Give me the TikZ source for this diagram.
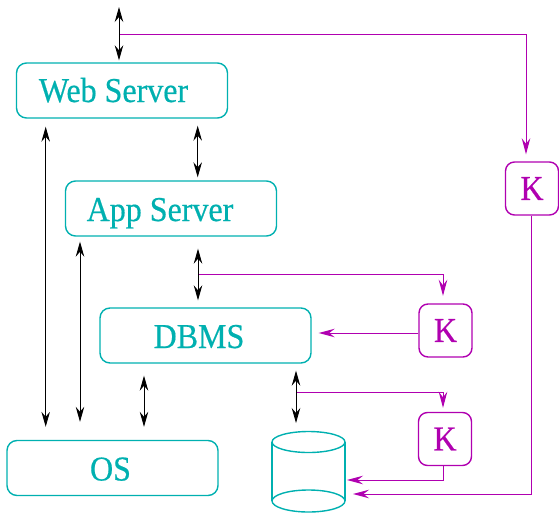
\documentclass[tikz,border=0pt]{standalone}
\usepackage{fontspec}
\setmainfont{Liberation Serif}
\newfontfamily\lblfont[FakeBold=0.5]{Liberation Serif}
\usepackage{graphicx}
\usetikzlibrary{arrows.meta}
\definecolor{tealc}{RGB}{0,176,176}
\definecolor{magc}{RGB}{176,0,176}
\newcommand{\tallt}[1]{\scalebox{1}[1.09]{#1}}
\begin{document}
\begin{tikzpicture}[x=1pt,y=-1pt,
  box/.style={draw=tealc, line width=1.4pt, rounded corners=10pt, minimum width=211pt, minimum height=55pt, inner sep=0pt},
  lbl/.style={text=tealc, font=\lblfont\fontsize{32}{34}\selectfont, anchor=base, inner sep=0pt},
  kbox/.style={draw=magc, line width=1.4pt, rounded corners=9pt, minimum width=53pt, minimum height=53pt, inner sep=0pt, text=magc, font=\lblfont\fontsize{32}{34}\selectfont},
  dbl/.style={black, line width=0.9pt, {Stealth[length=15pt,width=8.5pt,inset=5pt]}-{Stealth[length=15pt,width=8.5pt,inset=5pt]}},
  mag/.style={magc, line width=1pt, -{Stealth[length=16pt,width=8.5pt,inset=5.5pt]}},
]
\useasboundingbox (0,0) rectangle (559,514);

% boxes
\node[box] (ws) at (122,90.5) {};
\node[lbl] (wst) at (113.5,102) {\tallt{Web Server}};
\node[box] (as) at (171,208.5) {};
\node[lbl] (ast) at (160,221) {\tallt{App Server}};
\node[box] (db) at (205.5,335.5) {};
\node[lbl] (dbt) at (199,348) {\tallt{DBMS}};
\node[box] (os) at (112.5,468) {};
\node[lbl] (ost) at (110.5,480.5) {\tallt{OS}};

\node[kbox] (k1) at (532,188.5) {\tallt{K}};
\node[kbox] (k2) at (445.5,330.5) {\tallt{K}};
\node[kbox] (k3) at (445,439) {\tallt{K}};

% cylinder
\draw[tealc, line width=1.4pt] (308.5,442) ellipse [x radius=36.5pt, y radius=10.5pt];
\draw[tealc, line width=1.4pt] (308.5,501) ellipse [x radius=36.5pt, y radius=11pt];
\draw[tealc, line width=1.4pt] (272,442) -- (272,501) (345,442) -- (345,501);
\coordinate (cyltop) at (308.5,431.5);
\coordinate (cylA) at (345,480);
\coordinate (cylB) at (345,494);

% column coordinates
\coordinate (c0) at (119,0);
\coordinate (c1) at (45.7,0);
\coordinate (c2) at (80,0);
\coordinate (c3) at (197.7,0);
\coordinate (c4) at (198,0);
\coordinate (c5) at (144,0);
\coordinate (c6) at (296,0);
\coordinate (topend) at (119,7);

% magenta connectors
\coordinate (m1) at (119,34);
\coordinate (m2) at (198,274);
\coordinate (m3) at (296,392);
\draw[mag, shorten >=7pt] (m1) -| ([xshift=-6pt]k1.north);
\draw[mag, shorten >=8pt] ([xshift=-1pt]k1.south) |- (cylB);
\draw[mag, shorten >=7.5pt] (m2) -| ([xshift=-2.5pt]k2.north);
\draw[mag, shorten >=7pt] ([yshift=-2.5pt]k2.west) -- ([yshift=-2.5pt]db.east |- k2.west);
\draw[mag, shorten >=4pt] (m3) -| ([xshift=-2pt]k3.north);
\draw[mag, shorten >=2pt] ([xshift=-2pt]k3.south) |- (cylA);

% black double arrows
\draw[dbl, shorten >=2pt] (topend) -- (ws.north -| c0);
\draw[dbl, shorten <=8pt, shorten >=13pt] (ws.south -| c1) -- (os.north -| c1);
\draw[dbl, shorten <=5pt, shorten >=18pt] (as.south -| c2) -- (os.north -| c2);
\draw[dbl, shorten <=7pt, shorten >=3pt] (ws.south -| c3) -- (as.north -| c3);
\draw[dbl, shorten <=12pt, shorten >=7pt] (as.south -| c4) -- (db.north -| c4);
\draw[dbl, shorten <=12pt, shorten >=13pt] (db.south -| c5) -- (os.north -| c5);
\draw[dbl, shorten <=7pt, shorten >=8.5pt] (db.south -| c6) -- (cyltop -| c6);
\end{tikzpicture}
\end{document}
